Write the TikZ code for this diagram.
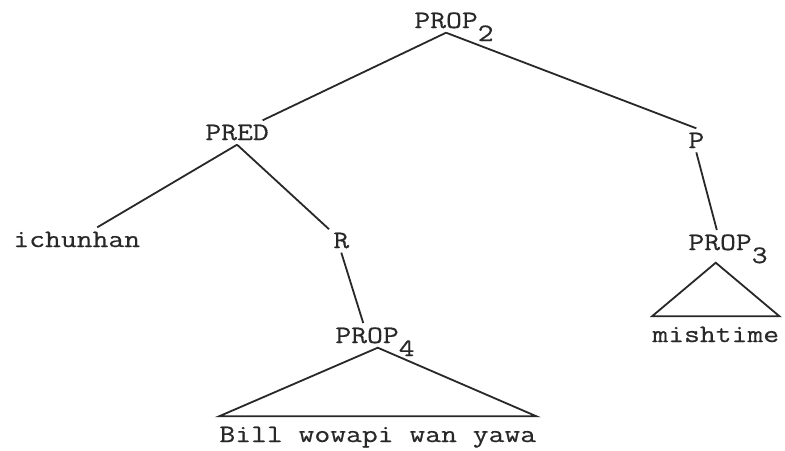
\documentclass[tikz,border=0pt]{standalone}
\usepackage{fontspec}
\setmonofont[FakeStretch=1.23, FakeBold=0.5]{Latin Modern Mono}
\usepackage{xcolor}
\usepackage{tikz}
\definecolor{typeink}{RGB}{40,40,40}
\newcommand{\lowsub}[1]{\rlap{\smash{\raisebox{-6.5pt}{#1}}}}

\begin{document}
\begin{tikzpicture}[
  x=0.5pt, y=-0.5pt,
  every node/.style={font=\ttfamily\fontsize{12.5}{15}\selectfont, text=typeink},
  catnode/.style={inner sep=2pt, anchor=base west},
  leafnode/.style={inner xsep=0pt, inner ysep=5pt, anchor=base west},
  branch/.style={draw=typeink, line width=0.9pt}
]
\useasboundingbox[fill=white] (0,0) rectangle (785,450);

\node[catnode] (prop2) at (410,28) {PROP\lowsub{2}};
\node[catnode] (pred) at (201,140) {PRED};
\node[catnode] (p) at (684,148) {P};
\node[catnode] (ichunhan) at (9,247) {ichunhan};
\node[catnode] (r) at (329,248) {R};
\node[catnode] (prop3) at (684,250) {PROP\lowsub{3}};
\node[catnode] (prop4) at (331,343) {PROP\lowsub{4}};
\node[leafnode] (mishtime) at (652,342) {mishtime};
\node[leafnode] (bill) at (219,442) {Bill wowapi wan yawa};

\draw[branch] (prop2.south) -- (pred);
\draw[branch] (prop2.south) -- (p.north);
\draw[branch] (pred.south) -- (ichunhan);
\draw[branch] (pred.south) -- (r);
\draw[branch] (r.south) -- (prop4);
\draw[branch] (p.south) -- (prop3);

% roofs over the unanalysed strings
\draw[branch, line join=miter] (prop4.south -| bill.north) -- (bill.north west) -- (bill.north east) -- cycle;
\draw[branch, line join=miter] ([yshift=-4pt]prop3.south -| mishtime.north) -- (mishtime.north west) -- (mishtime.north east) -- cycle;
\end{tikzpicture}
\end{document}
